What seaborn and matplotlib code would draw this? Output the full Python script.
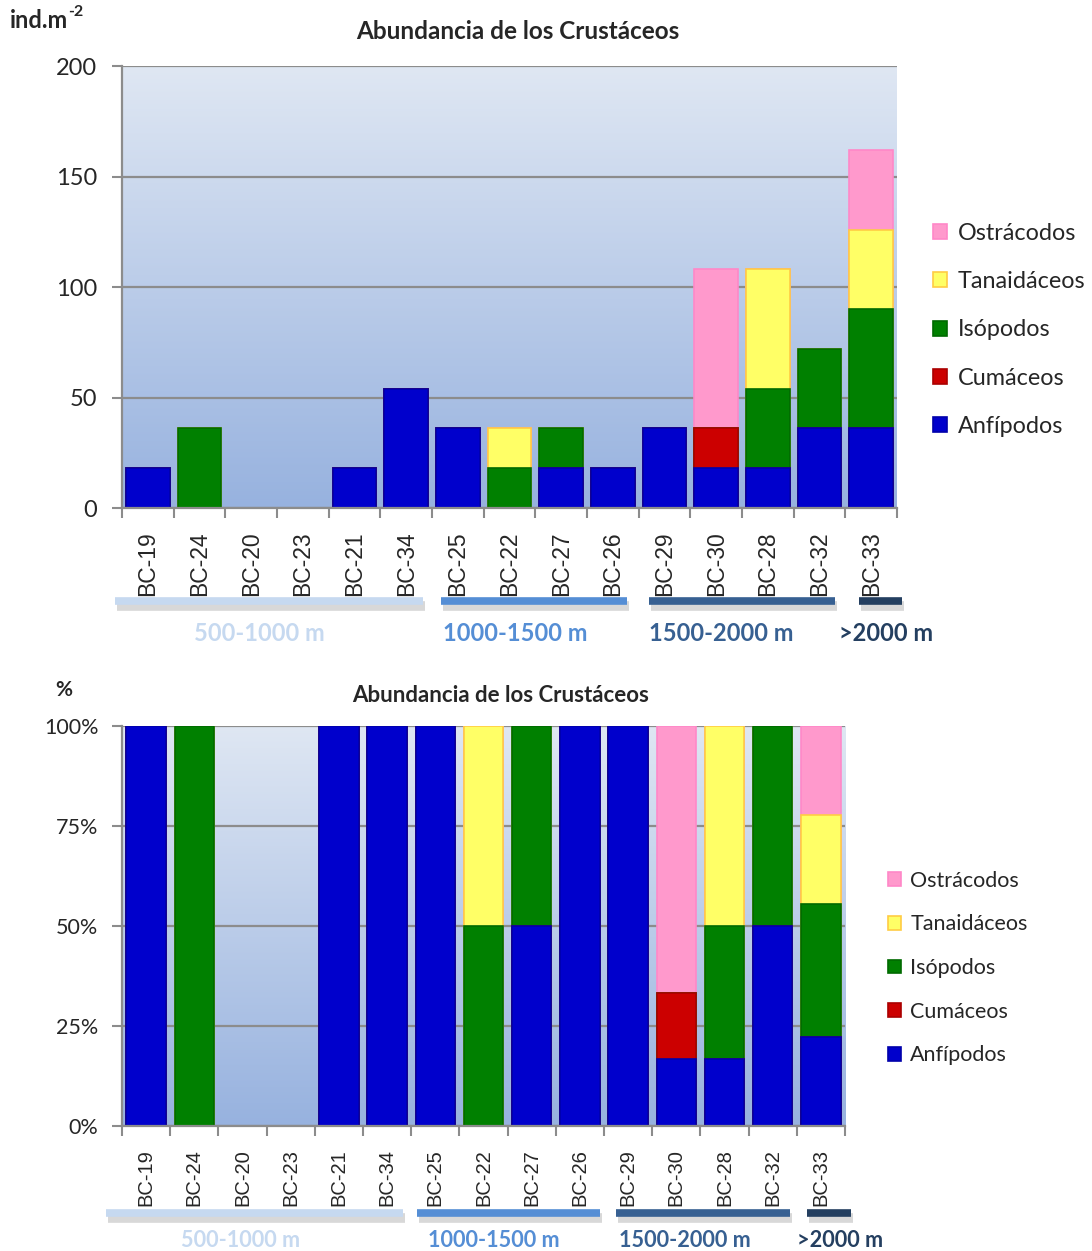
import numpy as np
import pandas as pd
import matplotlib
matplotlib.use("Agg")
import matplotlib.pyplot as plt
import matplotlib.patheffects as pe
from matplotlib.patches import Patch
from matplotlib.colors import LinearSegmentedColormap
import seaborn as sns

# ---------------- data ----------------
stations = ["BC-19", "BC-24", "BC-20", "BC-23", "BC-21", "BC-34", "BC-25", "BC-22",
            "BC-27", "BC-26", "BC-29", "BC-30", "BC-28", "BC-32", "BC-33"]
anfipodos    = [18, 0, 0, 0, 18, 54, 36, 0, 18, 18, 36, 18, 18, 36, 36]
cumaceos     = [0, 0, 0, 0, 0, 0, 0, 0, 0, 0, 0, 18, 0, 0, 0]
isopodos     = [0, 36, 0, 0, 0, 0, 0, 18, 18, 0, 0, 0, 36, 36, 54]
tanaidaceos  = [0, 0, 0, 0, 0, 0, 0, 18, 0, 0, 0, 0, 54, 0, 36]
ostracodos   = [0, 0, 0, 0, 0, 0, 0, 0, 0, 0, 0, 72, 0, 0, 36]

series_names = ["Anfípodos", "Cumáceos", "Isópodos", "Tanaidáceos", "Ostrácodos"]
series_vals = [anfipodos, cumaceos, isopodos, tanaidaceos, ostracodos]
face_colors = ["#0000cc", "#cc0000", "#008000", "#ffff66", "#ff99cc"]
edge_colors = ["#0000aa", "#aa0000", "#006a00", "#ffcc44", "#ff88c8"]

groups = ["500-1000 m", "1000-1500 m", "1500-2000 m", ">2000 m"]
group_first = [0, 6, 10, 14]
group_last = [5, 9, 13, 14]
group_colors = ["#c6d9f0", "#558ed5", "#376092", "#243f60"]

title = "Abundancia de los Crustáceos"
top_yticks = [0, 50, 100, 150, 200]
pct_yticks = [0, 25, 50, 75, 100]

# ---------------- style ----------------
sns.set_theme(style="white")
plt.rcParams["font.family"] = ["Lato", "DejaVu Sans"]

df = pd.DataFrame({"station": stations})
for n, v in zip(series_names, series_vals):
    df[n] = v
vals = df[series_names].to_numpy(dtype=float)
cum = np.cumsum(vals, axis=1)
totals = cum[:, -1]
safe = np.where(totals > 0, totals, 1)[:, None]
cum_pct = np.where(totals[:, None] > 0, cum / safe * 100, 0)

fig = plt.figure(figsize=(10.92, 12.51), dpi=100)
ax1 = fig.add_axes([0.1117, 0.5939, 0.8214 - 0.1117, 0.9472 - 0.5939])
ax2 = fig.add_axes([0.1117, 0.0999, 0.7738 - 0.1117, 0.4197 - 0.0999])

grad = np.linspace(0, 1, 256).reshape(-1, 1)
cmap = LinearSegmentedColormap.from_list("bg", ["#dfe7f3", "#97b2df"])
tick_family = ["Liberation Sans Narrow", "Liberation Sans", "DejaVu Sans"]


def draw(ax, cumdata, ymax, yticks, ylabels, width, tick_fs, lab_fs, lab_pad,
         bar_start_off, bar_end_off, label_offsets, bar_y, label_y, title_fs, title_xy,
         group_fs, legend_fs, legend_anchor, legend_space, ypad):
    ax.imshow(grad, aspect="auto", cmap=cmap, extent=[0, 1, 0, 1],
              transform=ax.transAxes, zorder=0)
    for yt in yticks:
        ax.axhline(yt, color="#8c8c8c", lw=1.6, zorder=1)
    # layered stacked bars: draw cumulative totals from top layer downwards
    for k in range(len(series_names) - 1, -1, -1):
        d = pd.DataFrame({"station": stations, "v": cumdata[:, k]})
        sns.barplot(data=d, x="station", y="v", order=stations, color=face_colors[k],
                    saturation=1, width=width, edgecolor=edge_colors[k], linewidth=1.2,
                    errorbar=None, ax=ax, zorder=2)
    ax.set_xlim(-0.5, len(stations) - 0.5)
    ax.set_ylim(0, ymax)
    ax.set_xlabel("")
    ax.set_ylabel("")
    ax.set_yticks(yticks)
    ax.set_yticklabels(ylabels, fontsize=tick_fs)
    ax.set_xticks(np.arange(-0.5, len(stations), 1))
    ax.set_xticklabels([])
    ax.set_xticks(np.arange(len(stations)), minor=True)
    ax.set_xticklabels(stations, minor=True, rotation=90, fontsize=lab_fs,
                       family=tick_family)
    ax.tick_params(axis="x", which="major", length=7, width=1.5, color="#8c8c8c",
                   direction="out", bottom=True)
    ax.tick_params(axis="x", which="minor", length=0, pad=lab_pad)
    ax.tick_params(axis="y", length=7, width=1.5, color="#8c8c8c", direction="out",
                   left=True, pad=ypad)
    for s in ["top", "right"]:
        ax.spines[s].set_visible(False)
    for s in ["left", "bottom"]:
        ax.spines[s].set_color("#8c8c8c")
        ax.spines[s].set_linewidth(1.6)
    ax.text(title_xy[0], title_xy[1], title, transform=ax.transAxes, fontsize=title_fs,
            fontweight="bold", ha="center", va="center")
    # depth group bars
    tr = ax.get_xaxis_transform()
    for i, (f, l, c) in enumerate(zip(group_first, group_last, group_colors)):
        x0 = f + bar_start_off[i]
        x1 = l + bar_end_off[i]
        ax.plot([x0, x1], [bar_y, bar_y], transform=tr, color=c, lw=5.5,
                solid_capstyle="butt", clip_on=False, zorder=1,
                path_effects=[pe.SimpleLineShadow(offset=(1.5, -3.5), shadow_color="#666666",
                                                  alpha=0.25, linewidth=7), pe.Normal()])
    for g, f, l, c, lo in zip(groups, group_first, group_last, group_colors, label_offsets):
        xm = (f + l) / 2 + lo
        ax.text(xm, label_y, g, transform=tr, color=c, fontsize=group_fs,
                fontweight="bold", ha="center", va="center", clip_on=False)
    handles = [Patch(facecolor=face_colors[k], edgecolor=edge_colors[k], lw=1.2,
                     label=series_names[k]) for k in range(len(series_names) - 1, -1, -1)]
    ax.legend(handles=handles, loc="center left", bbox_to_anchor=legend_anchor,
              frameon=False, fontsize=legend_fs, handlelength=0.6, handleheight=0.6,
              handletextpad=0.45, labelspacing=legend_space, borderaxespad=0,
              borderpad=0)


draw(ax1, cum, 200, top_yticks, [str(t) for t in top_yticks], 0.85, 17, 16.5, 17,
     (-0.63, -0.33, -0.30, -0.24), (0.33, 0.27, 0.30, 0.60),
     (-0.35, -0.38, -0.40, 0.28), -0.21, -0.283, 17.5, (0.511, 1.079), 17,
     16.8, (1.047, 0.403), 1.17, 11)
draw(ax2, cum_pct, 100, pct_yticks, [f"{t}%" for t in pct_yticks], 0.82, 15.5, 14.5, 16.5,
     (-0.83, -0.38, -0.25, -0.29), (0.33, 0.42, 0.36, 0.62),
     (-0.53, -0.28, -0.32, 0.40), -0.2175, -0.285, 16, (0.524, 1.075), 15.6,
     15.5, (1.059, 0.395), 1.1, 10)

t1 = fig.text(10 / 1092, 1 - 20 / 1251, "ind.m", fontsize=17, fontweight="bold",
              ha="left", va="center")
ann = plt.annotate("-2", xy=(1.0, 0.55), xycoords=t1, fontsize=11.5, fontweight="bold",
                   ha="left", va="bottom", annotation_clip=False)
fig.text(55 / 1092, 1 - 690 / 1251, "%", fontsize=15, fontweight="bold", ha="left",
         va="center")

fig.savefig("out.png", dpi=100)
